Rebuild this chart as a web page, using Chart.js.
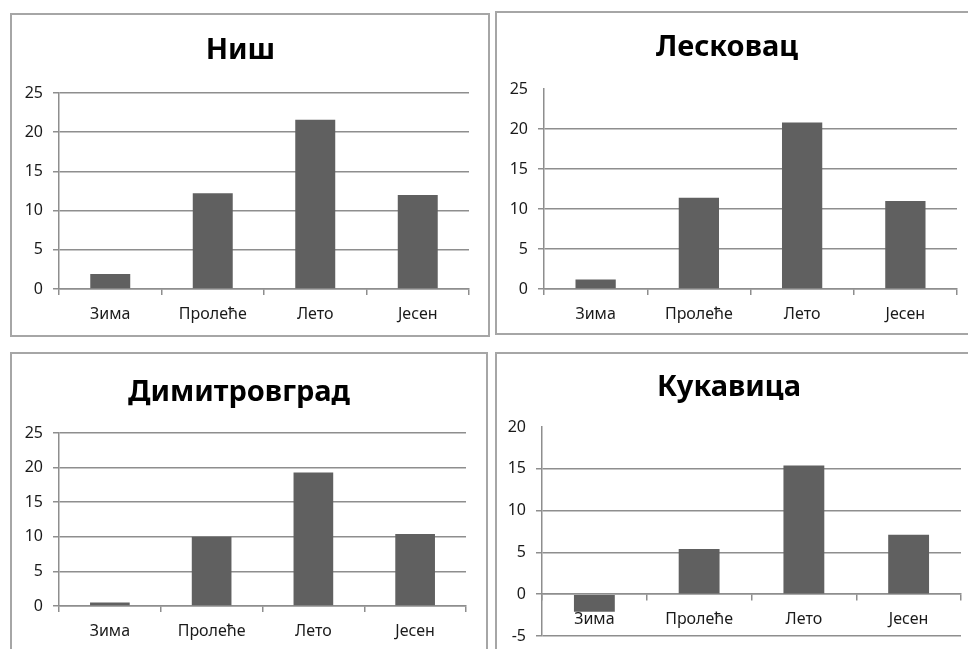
<!DOCTYPE html>
<html>
<head>
<meta charset="utf-8">
<script src="https://cdn.jsdelivr.net/npm/chart.js@4"></script>
<style>
  body { margin: 0; background: #fff; width: 968px; height: 649px; overflow: hidden; position: relative; }
  .panel { position: absolute; border: 2px solid #a6a6a6; background: #fff; }
  .panel canvas { display: block; }
</style>
</head>
<body>
<div class="panel" id="p1"><canvas id="c1"></canvas></div>
<div class="panel" id="p2"><canvas id="c2"></canvas></div>
<div class="panel" id="p3"><canvas id="c3"></canvas></div>
<div class="panel" id="p4"><canvas id="c4"></canvas></div>
<script>
// годишња доба
const seasons = ['Зима', 'Пролеће', 'Лето', 'Јесен'];

// вредности по граду
const nis = [1.9, 12.2, 21.6, 12.0];
const leskovac = [1.2, 11.4, 20.8, 11.0];
const dimitrovgrad = [0.5, 10.0, 19.3, 10.4];
const kukavica = [-2.1, 5.4, 15.4, 7.1];

// опсези осе Y
const yRangeMain = [0, 25];
const yRangeKukavica = [-5, 20];
const yStep = 5;

const barColor = '#606060';
const gridColor = '#8e8e8e';
const fontFamily = '"Noto Sans", "DejaVu Sans", sans-serif';

// x, y, w, h: оквир панела; plot: поље графика (на страни); titleY: средина наслова
function makeChart(id, panelId, title, values, range, box, opts) {
    opts = opts || {};
    const panel = document.getElementById(panelId);
    panel.style.left = box.x + 'px';
    panel.style.top = box.y + 'px';
    panel.style.width = (box.w - 4) + 'px';
    panel.style.height = (box.h - 4) + 'px';

    const ix = box.x + 2, iy = box.y + 2;
    const cw = box.w - 4, ch = box.h - 4;
    const canvas = document.getElementById(id);
    canvas.width = cw;
    canvas.height = ch;

    const titleSize = 29;
    const titleLine = titleSize * 1.2;
    const titleTop = box.titleY - iy - titleLine / 2;
    const titleBottom = box.plot.t - iy - titleTop - titleLine;
    const yWidth = box.plot.l - ix;
    const xHeight = iy + ch - box.plot.b;

    new Chart(canvas.getContext('2d'), {
        type: 'bar',
        data: {
            labels: seasons,
            datasets: [{
                data: values,
                backgroundColor: barColor,
                borderWidth: 0,
                barPercentage: 0.39,
                categoryPercentage: 1.0
            }]
        },
        options: {
            responsive: false,
            animation: false,
            layout: {
                padding: {
                    left: 0,
                    top: 0,
                    right: ix + cw - box.plot.r,
                    bottom: opts.axisAtZero ? xHeight : 0
                }
            },
            plugins: {
                legend: { display: false },
                tooltip: { enabled: false },
                title: {
                    display: true,
                    text: title,
                    color: '#000',
                    font: { family: fontFamily, size: titleSize, weight: 'bold', lineHeight: 1.2 },
                    padding: { top: titleTop, bottom: titleBottom }
                }
            },
            scales: {
                x: {
                    position: opts.axisAtZero ? { y: 0 } : 'bottom',
                    offset: true,
                    grid: {
                        offset: true,
                        drawOnChartArea: false,
                        drawTicks: true,
                        tickLength: 6,
                        color: gridColor,
                        lineWidth: 1.5
                    },
                    border: { display: true, color: gridColor, width: 1.5 },
                    ticks: {
                        color: '#1a1a1a',
                        padding: 10,
                        font: { family: fontFamily, size: 16 }
                    },
                    afterFit: s => { if (!opts.axisAtZero) s.height = xHeight; }
                },
                y: {
                    min: range[0],
                    max: range[1],
                    grid: {
                        color: ctx => (opts.noTopLine && ctx.tick && ctx.tick.value === range[1]) ? 'rgba(0,0,0,0)' : gridColor,
                        lineWidth: 1.5,
                        drawTicks: true,
                        tickLength: 6
                    },
                    border: { display: true, color: gridColor, width: 1.5 },
                    ticks: {
                        stepSize: yStep,
                        color: '#1a1a1a',
                        padding: 10,
                        font: { family: fontFamily, size: 16 }
                    },
                    afterFit: s => { s.width = yWidth; }
                }
            }
        }
    });
}

makeChart('c1', 'p1', 'Ниш', nis, yRangeMain,
    { x: 10, y: 13, w: 480, h: 324, titleY: 51, plot: { l: 59, r: 469, t: 93, b: 289 } });
makeChart('c2', 'p2', 'Лесковац', leskovac, yRangeMain,
    { x: 495, y: 11, w: 485, h: 324, titleY: 48, plot: { l: 544, r: 957, t: 89, b: 289 } },
    { noTopLine: true });
makeChart('c3', 'p3', 'Димитровград', dimitrovgrad, yRangeMain,
    { x: 10, y: 352, w: 478, h: 326, titleY: 393, plot: { l: 59, r: 466, t: 433, b: 606 } });
makeChart('c4', 'p4', 'Кукавица', kukavica, yRangeKukavica,
    { x: 495, y: 352, w: 485, h: 326, titleY: 388, plot: { l: 542, r: 961, t: 427, b: 636 } },
    { noTopLine: true, axisAtZero: true });
</script>
</body>
</html>
